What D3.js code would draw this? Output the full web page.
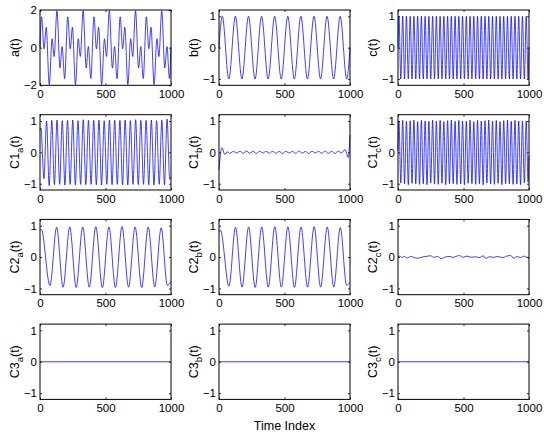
<!DOCTYPE html>
<html><head><meta charset="utf-8">
<script src="https://cdn.jsdelivr.net/npm/d3@7"></script>
<style>html,body{margin:0;padding:0;background:#fff;} svg{display:block}</style>
</head><body><svg id="c" width="544" height="435"></svg>
<script>
// ---------- data ----------
const xTicks = [0, 500, 1000];
const yTicksA = [-2, 0, 2];
const yTicksU = [-1, 0, 1];
const xLabel = "Time Index";
const rowNames = ["", "C1", "C2", "C3"];
const colNames = ["a", "b", "c"];

const seriesA = [[0,0],[11.9,1.64],[30.9,-0.06],[47.4,1.08],[70.7,-1.96],[92.3,0.47],[107.7,-0.47],[129.3,1.96],[152.6,-1.08],[169.1,0.06],[188.1,-1.64],
[211.9,1.64],[230.9,-0.06],[247.4,1.08],[270.7,-1.96],[292.3,0.47],[307.7,-0.47],[329.3,1.96],[352.6,-1.08],[369.1,0.06],[388.1,-1.64],
[411.9,1.64],[430.9,-0.06],[447.4,1.08],[470.7,-1.96],[492.3,0.47],[507.7,-0.47],[529.3,1.96],[552.6,-1.08],[569.1,0.06],[588.1,-1.64],
[611.9,1.64],[630.9,-0.06],[647.4,1.08],[670.7,-1.96],[692.3,0.47],[707.7,-0.47],[729.3,1.96],[752.6,-1.08],[769.1,0.06],[788.1,-1.64],
[811.9,1.64],[830.9,-0.06],[847.4,1.08],[870.7,-1.96],[892.3,0.47],[907.7,-0.47],[929.3,1.96],[952.6,-1.08],[969.1,0.06],[988.1,-1.64],[1000,0]];

const seriesB = [[0,0],[25,1],[75,-1],[125,1],[175,-1],[225,1],[275,-1],[325,1],[375,-1],[425,1],[475,-1],[525,1],[575,-1],[625,1],[675,-1],[725,1],[775,-1],[825,1],[875,-1],[925,1],[975,-1],[1000,0]];

const seriesC = [[0,0],[7.1,1],[21.4,-1],[35.7,1],[50,-1],[64.3,1],[78.6,-1],[92.9,1],[107.1,-1],[121.4,1],[135.7,-1],[150,1],[164.3,-1],[178.6,1],[192.9,-1],[207.1,1],[221.4,-1],[235.7,1],[250,-1],[264.3,1],[278.6,-1],[292.9,1],[307.1,-1],[321.4,1],[335.7,-1],[350,1],[364.3,-1],[378.6,1],[392.9,-1],[407.1,1],[421.4,-1],[435.7,1],[450,-1],[464.3,1],[478.6,-1],[492.9,1],
[507.1,-1],[521.4,1],[535.7,-1],[550,1],[564.3,-1],[578.6,1],[592.9,-1],[607.1,1],[621.4,-1],[635.7,1],[650,-1],[664.3,1],[678.6,-1],[692.9,1],[707.1,-1],[721.4,1],[735.7,-1],[750,1],[764.3,-1],[778.6,1],[792.9,-1],[807.1,1],[821.4,-1],[835.7,1],[850,-1],[864.3,1],[878.6,-1],[892.9,1],[907.1,-1],[921.4,1],[935.7,-1],[950,1],[964.3,-1],[978.6,1],[992.9,-1],[1000,0]];

const seriesC1a = [[0,0.70],[7,0.78],[30,-0.84],[50,1.0],[70,-1.06],[90,1.02],[110,-1.03],[130,1.03],[150,-1.02],[170,1.01],[190,-1.04],[210,1.02],[230,-1.02],[250,1.03],[270,-1.03],[290,1.01],[310,-1.02],[330,1.04],[350,-1.03],[370,1.02],[390,-1.02],[410,1.02],[430,-1.03],[450,1.03],[470,-1.04],[490,1.01],[510,-1.02],[530,1.03],[550,-1.03],[570,1.02],[590,-1.02],[610,1.02],[630,-1.03],[650,1.03],[670,-1.04],[690,1.01],[710,-1.02],[730,1.04],[750,-1.03],[770,1.02],[790,-1.02],[810,1.02],[830,-1.03],[850,1.03],[870,-1.04],[890,1.01],[910,-1.02],[930,1.03],[950,-1.03],[970,1.06],[990,-0.86],[1000,-0.78]];

const seriesC1b = [[0,-0.55],[22,0.15],[45,-0.07],[62,0.02],[85,-0.03],[110,0.03],[135,-0.02],[160,0.035],[185,-0.03],[210,0.04],[235,-0.025],[260,0.03],[285,-0.035],[310,0.035],[335,-0.02],[360,0.03],[385,-0.03],[410,0.04],[435,-0.03],[460,0.03],[485,-0.035],[510,0.035],[535,-0.02],[560,0.03],[585,-0.03],[610,0.04],[635,-0.025],[660,0.03],[685,-0.035],[710,0.035],[735,-0.02],[760,0.03],[785,-0.03],[810,0.04],[835,-0.03],[860,0.03],[885,-0.035],[910,0.035],[935,-0.02],[962,0.09],[987,-0.16],[1000,0.55]];

const seriesC1c = [[0,0.05],[7.1,1.0],[21.4,-0.98],[35.7,1.02],[50,-1.0],[64.3,0.99],[78.6,-1.03],[92.9,1.01],[107.1,-0.99],[121.4,1.03],[135.7,-1.0],[150,0.98],[164.3,-1.02],[178.6,1.02],[192.9,-1.0],[207.1,1.0],[221.4,-1.03],[235.7,0.99],[250,-0.98],[264.3,1.03],[278.6,-1.01],[292.9,1.0],[307.1,-1.02],[321.4,1.02],[335.7,-0.99],[350,0.98],[364.3,-1.03],[378.6,1.01],[392.9,-1.0],[407.1,1.03],[421.4,-1.0],[435.7,0.99],[450,-1.02],[464.3,1.02],[478.6,-1.01],[492.9,1.0],
[507.1,-1.03],[521.4,0.99],[535.7,-0.99],[550,1.03],[564.3,-1.0],[578.6,0.98],[592.9,-1.02],[607.1,1.02],[621.4,-1.0],[635.7,1.0],[650,-1.03],[664.3,1.01],[678.6,-0.98],[692.9,1.03],[707.1,-1.01],[721.4,1.0],[735.7,-1.02],[750,1.02],[764.3,-0.99],[778.6,0.98],[792.9,-1.03],[807.1,1.01],[821.4,-1.0],[835.7,1.03],[850,-1.0],[864.3,0.99],[878.6,-1.02],[892.9,1.02],[907.1,-1.01],[921.4,1.0],[935.7,-1.03],[950,0.99],[964.3,-0.97],[978.6,1.0],[992.9,-0.95],[1000,-0.1]];

const seriesC2a = [[0,0.85],[10,0.88],[76,-0.91],[127,0.95],[176,-0.96],[227,0.96],[276,-0.97],[326,0.96],[376,-0.96],[426,0.97],[476,-0.97],[526,0.96],[576,-0.97],[626,0.97],[676,-0.96],[726,0.96],[776,-0.97],[826,0.96],[876,-0.95],[925,0.93],[972,-0.9],[1000,-0.78]];

const seriesC2b = [[0,0.80],[11,0.86],[76,-0.93],[126,0.95],[176,-0.96],[226,0.96],[276,-0.97],[326,0.96],[376,-0.96],[426,0.97],[476,-0.96],[526,0.96],[576,-0.97],[626,0.96],[676,-0.96],[726,0.97],[776,-0.96],[826,0.96],[876,-0.95],[926,0.94],[974,-0.9],[1000,-0.8]];

const seriesC2c = [[0,0.0],[15,0.03],[30,-0.02],[45,0.02],[70,-0.03],[95,0.02],[120,-0.01],[150,-0.04],[185,0.0],[215,0.02],[250,0.04],[275,-0.01],[300,0.02],[330,-0.05],[360,0.0],[390,0.02],[420,-0.01],[450,0.03],[470,0.05],[495,-0.01],[525,0.03],[560,-0.01],[590,0.01],[620,-0.02],[650,0.04],[670,-0.04],[700,0.01],[730,-0.01],[760,0.02],[800,-0.02],[830,0.03],[860,0.05],[885,-0.04],[910,0.02],[935,-0.02],[960,0.03],[985,-0.01],[1000,-0.03]];

const seriesC3a = [[0,0],[1000,0]];
const seriesC3b = [[0,0],[1000,0]];
const seriesC3c = [[0,0],[1000,0]];

const allSeries = [seriesA, seriesB, seriesC, seriesC1a, seriesC1b, seriesC1c, seriesC2a, seriesC2b, seriesC2c, seriesC3a, seriesC3b, seriesC3c];

// ---------- layout ----------
const colX = [40, 219, 398], rowY = [10, 114.7, 219.4, 324.1];
const W = 131, H = 75.3;
const FONT = "'Liberation Sans', Arial, Helvetica, sans-serif";

const svg = d3.select("#c");
svg.append("rect").attr("width",544).attr("height",435).attr("fill","#fff");

allSeries.forEach((data, i) => {
  const r = Math.floor(i / 3), c = i % 3;
  const isA = (i === 0);
  const dom = isA ? [-2, 2] : [-1.2, 1.2];
  const yt = isA ? yTicksA : yTicksU;
  const g = svg.append("g").attr("transform", `translate(${colX[c]},${rowY[r]})`);
  const x = d3.scaleLinear().domain([0, 1000]).range([0, W]);
  const y = d3.scaleLinear().domain(dom).range([H, 0]);

  g.append("path").datum(data)
    .attr("fill", "none").attr("stroke", "#0000ff").attr("stroke-width", 0.75)
    .attr("d", d3.line().x(d => x(d[0])).y(d => y(d[1])).curve(d3.curveMonotoneX));

  const fmt = d3.format("d");
  g.append("g").attr("transform", `translate(0,${H})`)
    .call(d3.axisBottom(x).tickValues(xTicks).tickSizeInner(-2).tickSizeOuter(0).tickPadding(4.5).tickFormat(fmt));
  g.append("g")
    .call(d3.axisLeft(y).tickValues(yt).tickSizeInner(-2).tickSizeOuter(0).tickPadding(3).tickFormat(fmt));
  g.append("g").call(d3.axisTop(x).tickValues(xTicks).tickSizeInner(-2).tickSizeOuter(0).tickFormat(""));
  g.append("g").attr("transform", `translate(${W},0)`)
    .call(d3.axisRight(y).tickValues(yt).tickSizeInner(-2).tickSizeOuter(0).tickFormat(""));

  g.selectAll(".domain").remove();
  g.selectAll(".tick line").attr("stroke", "#000").attr("stroke-width", 0.8);
  g.selectAll(".tick text").attr("font-family", FONT).attr("font-size", 11.5).attr("fill", "#000");

  g.append("rect").attr("x", 0).attr("y", 0).attr("width", W).attr("height", H)
    .attr("fill", "none").attr("stroke", "#000").attr("stroke-width", 1);

  // y label
  const t = g.append("text")
    .attr("transform", `translate(-21,${H / 2}) rotate(-90)`)
    .attr("text-anchor", "middle").attr("font-family", FONT).attr("font-size", 12.5).attr("fill", "#000");
  if (r === 0) {
    t.text(colNames[c] + "(t)");
  } else {
    t.append("tspan").text(rowNames[r]);
    t.append("tspan").attr("dy", 4).attr("font-size", 9.5).text(colNames[c]);
    t.append("tspan").attr("dy", -4).text("(t)");
  }
});

svg.append("text").attr("transform", `translate(${colX[1] + W / 2},430)`)
  .attr("text-anchor", "middle").attr("font-family", FONT).attr("font-size", 12.5).attr("fill", "#000")
  .text(xLabel);
</script>
</body></html>
